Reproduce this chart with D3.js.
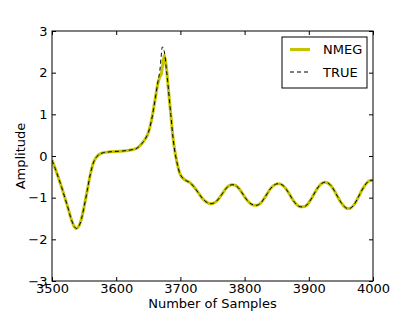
<!DOCTYPE html>
<html>
<head>
<meta charset="utf-8">
<script src="https://cdn.jsdelivr.net/npm/d3@7"></script>
<style>
  body { margin: 0; background: #fff; }
  svg text { font-family: "DejaVu Sans", sans-serif; fill: #000; }
</style>
</head>
<body>
<div id="chart"></div>
<script>
// sample index (x axis)
let samples = [3500, 3505, 3510, 3515, 3520, 3525, 3530, 3535, 3538, 3542, 3546, 3550, 3555, 3560, 3565, 3570,
  3575, 3580, 3590, 3600, 3610, 3620, 3630, 3635, 3640, 3645, 3650, 3655, 3660, 3665, 3668, 3670, 3672, 3675,
  3678, 3680, 3685, 3690, 3695, 3700, 3705, 3710, 3715, 3720, 3725, 3730, 3735, 3740, 3745, 3750, 3755, 3760,
  3765, 3770, 3775, 3780, 3785, 3790, 3795, 3800, 3805, 3810, 3815, 3820, 3825, 3830, 3835, 3840, 3845, 3850,
  3855, 3860, 3865, 3870, 3875, 3880, 3885, 3890, 3895, 3900, 3905, 3910, 3915, 3920, 3925, 3930, 3935, 3940,
  3945, 3950, 3955, 3960, 3965, 3970, 3975, 3980, 3985, 3990, 3995, 4000]

let trueValues = [-0.10, -0.30, -0.52, -0.75, -1.00, -1.25, -1.52, -1.70, -1.74, -1.68, -1.50, -1.22, -0.82, -0.42, -0.14, -0.01,
  0.05, 0.08, 0.10, 0.11, 0.12, 0.14, 0.17, 0.22, 0.30, 0.40, 0.56, 0.86, 1.30, 1.78, 2.05, 2.38, 2.62, 2.50,
  2.10, 1.82, 1.00, 0.25, -0.18, -0.45, -0.55, -0.60, -0.64, -0.72, -0.82, -0.93, -1.03, -1.10, -1.14, -1.14, -1.10, -1.02,
  -0.91, -0.80, -0.72, -0.69, -0.70, -0.76, -0.86, -0.98, -1.08, -1.15, -1.18, -1.18, -1.13, -1.03, -0.91, -0.79, -0.71, -0.67,
  -0.67, -0.71, -0.80, -0.92, -1.05, -1.15, -1.21, -1.22, -1.20, -1.12, -1.00, -0.86, -0.74, -0.66, -0.63, -0.65, -0.72, -0.84,
  -0.98, -1.11, -1.21, -1.26, -1.25, -1.18, -1.05, -0.90, -0.76, -0.65, -0.59, -0.58]

let nmegValues = [-0.10, -0.30, -0.52, -0.75, -1.00, -1.25, -1.52, -1.70, -1.74, -1.68, -1.50, -1.22, -0.82, -0.42, -0.14, -0.01,
  0.05, 0.08, 0.10, 0.11, 0.12, 0.14, 0.17, 0.22, 0.30, 0.40, 0.56, 0.86, 1.30, 1.75, 1.90, 1.95, 2.15, 2.42,
  2.15, 1.82, 1.00, 0.25, -0.18, -0.45, -0.55, -0.60, -0.64, -0.72, -0.82, -0.93, -1.03, -1.10, -1.14, -1.14, -1.10, -1.02,
  -0.91, -0.80, -0.72, -0.69, -0.70, -0.76, -0.86, -0.98, -1.08, -1.15, -1.18, -1.18, -1.13, -1.03, -0.91, -0.79, -0.71, -0.67,
  -0.67, -0.71, -0.80, -0.92, -1.05, -1.15, -1.21, -1.22, -1.20, -1.12, -1.00, -0.86, -0.74, -0.66, -0.63, -0.65, -0.72, -0.84,
  -0.98, -1.11, -1.21, -1.26, -1.25, -1.18, -1.05, -0.90, -0.76, -0.65, -0.59, -0.58]

let xTicks = [3500, 3600, 3700, 3800, 3900, 4000]
let yTicks = [-3, -2, -1, 0, 1, 2, 3]
let seriesNames = ['NMEG', 'TRUE']

let size = {width: 415, height: 312}
let margin = {top: 31, right: 42, bottom: 31, left: 52}
let chartWidth = size.width - margin.left - margin.right
let chartHeight = size.height - margin.top - margin.bottom

let svg = d3.select('#chart').append('svg')
  .attr('width', size.width)
  .attr('height', size.height)

let chartArea = svg.append('g')
  .attr('transform', 'translate(' + margin.left + ',' + margin.top + ')')

let xScale = d3.scaleLinear().domain([3500, 4000]).range([0, chartWidth])
let yScale = d3.scaleLinear().domain([-3, 3]).range([chartHeight, 0])

chartArea.append('clipPath').attr('id', 'clip')
  .append('rect').attr('width', chartWidth).attr('height', chartHeight)

let line = function(values){
  return d3.line()
    .x(function(d, i){ return xScale(samples[i]) })
    .y(function(d){ return yScale(d) })
    .curve(d3.curveCatmullRom)(values)
}

let plot = chartArea.append('g').attr('clip-path', 'url(#clip)')
plot.append('path')
  .attr('d', line(nmegValues))
  .attr('fill', 'none')
  .attr('stroke', '#c4c400')
  .attr('stroke-width', 3)
plot.append('path')
  .attr('d', line(trueValues))
  .attr('fill', 'none')
  .attr('stroke', '#000')
  .attr('stroke-width', 1)
  .attr('stroke-dasharray', '4,3')

// axes, ticks inward on all sides (classic matplotlib look)
let fontSize = '13px'
function styleAxis(g){
  g.select('.domain').remove()
  g.selectAll('.tick line').attr('stroke', '#000')
  g.selectAll('.tick text').style('font-size', fontSize)
}
chartArea.append('g')
  .attr('transform', 'translate(0,' + chartHeight + ')')
  .call(d3.axisBottom(xScale).tickValues(xTicks).tickSizeInner(-4).tickSizeOuter(0).tickPadding(2.5).tickFormat(d3.format('d')))
  .call(styleAxis)
chartArea.append('g')
  .call(d3.axisTop(xScale).tickValues(xTicks).tickSizeInner(-4).tickSizeOuter(0).tickFormat(''))
  .call(styleAxis)
chartArea.append('g')
  .call(d3.axisLeft(yScale).tickValues(yTicks).tickSizeInner(-4).tickSizeOuter(0).tickPadding(4.5)
    .tickFormat(function(d){ return d < 0 ? '\u2212' + Math.abs(d) : d }))
  .call(styleAxis)
chartArea.append('g')
  .attr('transform', 'translate(' + chartWidth + ',0)')
  .call(d3.axisRight(yScale).tickValues(yTicks).tickSizeInner(-4).tickSizeOuter(0).tickFormat(''))
  .call(styleAxis)

chartArea.append('rect')
  .attr('width', chartWidth)
  .attr('height', chartHeight)
  .attr('fill', 'none')
  .attr('stroke', '#000')
  .attr('stroke-width', 1)

// labels
svg.append('text')
  .attr('x', margin.left + chartWidth/2)
  .attr('y', 308)
  .style('text-anchor', 'middle')
  .style('font-size', fontSize)
  .text('Number of Samples')
svg.append('text')
  .attr('transform', 'translate(25,' + (margin.top + chartHeight/2) + ') rotate(-90)')
  .style('text-anchor', 'middle')
  .style('font-size', fontSize)
  .text('Amplitude')

// legend
let legend = svg.append('g').attr('transform', 'translate(282,37)')
legend.append('rect')
  .attr('width', 85).attr('height', 51)
  .attr('fill', '#fff').attr('stroke', '#000').attr('stroke-width', 1)
let legendStyles = [
  {stroke: '#c4c400', width: 3, dash: null},
  {stroke: '#000', width: 1, dash: '4,3'}
]
seriesNames.forEach(function(name, i){
  let yPos = 12.5 + i * 22.5
  legend.append('line')
    .attr('x1', 8).attr('x2', 28).attr('y1', yPos).attr('y2', yPos)
    .attr('stroke', legendStyles[i].stroke)
    .attr('stroke-width', legendStyles[i].width)
    .attr('stroke-dasharray', legendStyles[i].dash)
  legend.append('text')
    .attr('x', 41).attr('y', yPos + 4.5)
    .style('font-size', fontSize)
    .text(name)
})
</script>
</body>
</html>
